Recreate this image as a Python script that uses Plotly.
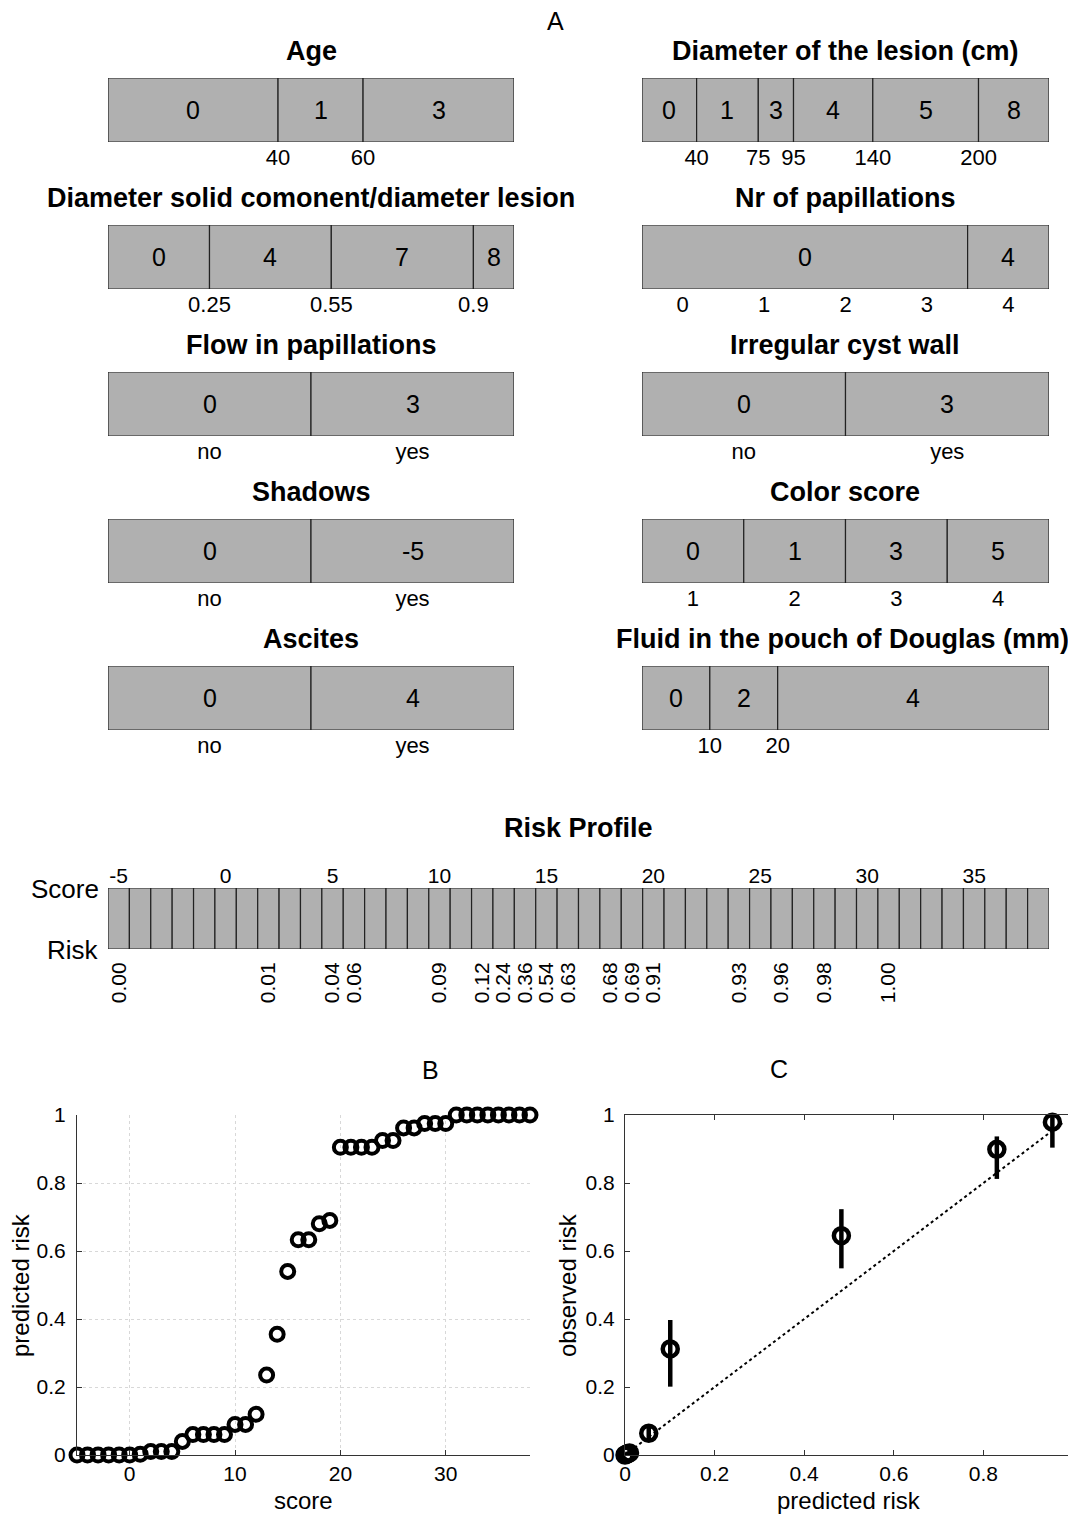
import plotly.graph_objects as go

W, H = 1076, 1516
OFF = 8                      # page body margin of the browser
FW, FH = W - OFF, H - OFF    # figure size
FONT = "Liberation Sans, Arial, sans-serif"
GRAY = "#b0b0b0"

# ---------------- Panel A data ----------------
titles = ["Age", "Diameter of the lesion (cm)",
          "Diameter solid comonent/diameter lesion", "Nr of papillations",
          "Flow in papillations", "Irregular cyst wall",
          "Shadows", "Color score",
          "Ascites", "Fluid in the pouch of Douglas (mm)"]

age_edges = [0, 40, 60, 95.5]
age_points = [0, 1, 3]
age_tickvals = [40, 60]
age_ticktext = ["40", "60"]

lesion_edges = [9, 40, 75, 95, 140, 200, 240]
lesion_points = [0, 1, 3, 4, 5, 8]
lesion_tickvals = [40, 75, 95, 140, 200]
lesion_ticktext = ["40", "75", "95", "140", "200"]

solid_edges = [0, 0.25, 0.55, 0.9, 1.0]
solid_points = [0, 4, 7, 8]
solid_tickvals = [0.25, 0.55, 0.9]
solid_ticktext = ["0.25", "0.55", "0.9"]

pap_edges = [-0.5, 3.5, 4.5]
pap_points = [0, 4]
pap_tickvals = [0, 1, 2, 3, 4]
pap_ticktext = ["0", "1", "2", "3", "4"]

flow_edges = [-0.5, 0.5, 1.5]
flow_points = [0, 3]
cyst_edges = [-0.5, 0.5, 1.5]
cyst_points = [0, 3]
shadow_edges = [-0.5, 0.5, 1.5]
shadow_points = [0, -5]
ascites_edges = [-0.5, 0.5, 1.5]
ascites_points = [0, 4]
yesno_tickvals = [0, 1]
yesno_ticktext = ["no", "yes"]

color_edges = [0.5, 1.5, 2.5, 3.5, 4.5]
color_points = [0, 1, 3, 5]
color_tickvals = [1, 2, 3, 4]
color_ticktext = ["1", "2", "3", "4"]

fluid_edges = [0, 10, 20, 60]
fluid_points = [0, 2, 4]
fluid_tickvals = [10, 20]
fluid_ticktext = ["10", "20"]

# ---------------- Risk profile data ----------------
profile_scores = list(range(-5, 39))
profile_top_ticks = [-5, 0, 5, 10, 15, 20, 25, 30, 35]
risk_label_scores = [-5, 2, 5, 6, 10, 12, 13, 14, 15, 16, 18, 19, 20, 24, 26, 28, 31]
risk_label_text = ["0.00", "0.01", "0.04", "0.06", "0.09", "0.12", "0.24", "0.36",
                   "0.54", "0.63", "0.68", "0.69", "0.91", "0.93", "0.96", "0.98", "1.00"]

# ---------------- Panel B data ----------------
b_score = list(range(-5, 39))
b_risk = [0.0, 0.0, 0.0, 0.0, 0.0, 0.0, 0.002, 0.01, 0.01, 0.01,
          0.04, 0.06, 0.06, 0.06, 0.06, 0.09, 0.09, 0.12, 0.235, 0.355,
          0.54, 0.633, 0.633, 0.68, 0.69, 0.905, 0.905, 0.905, 0.905, 0.925,
          0.925, 0.962, 0.962, 0.975, 0.975, 0.975, 1.0, 1.0, 1.0, 1.0,
          1.0, 1.0, 1.0, 1.0]

# ---------------- Panel C data ----------------
c_pred = [0.0, 0.003, 0.006, 0.01, 0.053, 0.101, 0.483, 0.830, 0.954]
c_obs = [0.0, 0.002, 0.004, 0.006, 0.064, 0.312, 0.645, 0.899, 0.979]
c_low = [0.0, 0.0, 0.0, 0.0, 0.045, 0.201, 0.549, 0.812, 0.904]
c_high = [0.004, 0.008, 0.01, 0.014, 0.084, 0.397, 0.723, 0.937, 1.0]
diag_x = [0, 0.98]
diag_y = [0, 0.98]

# ---------------- helpers (page pixel -> paper) ----------------
def px(x):
    return (x - OFF) / FW

def py(y):
    return 1 - (y - OFF) / FH

def dx(l, r):
    return [px(l), px(r)]

def dy(t, b):
    return [py(b), py(t)]

def txt(xp, yp, text, size, **kw):
    d = dict(x=px(xp), y=py(yp), xref="paper", yref="paper", text=text,
             showarrow=False, xanchor="center", yanchor="middle",
             font=dict(size=size, family=FONT, color="black"))
    d.update(kw)
    return d

fig = go.Figure()
annotations = []
layout = {}

def axname(n, kind):
    return kind + ("" if n == 1 else str(n))

boxes = [
    (age_edges, age_points, age_tickvals, age_ticktext),
    (lesion_edges, lesion_points, lesion_tickvals, lesion_ticktext),
    (solid_edges, solid_points, solid_tickvals, solid_ticktext),
    (pap_edges, pap_points, pap_tickvals, pap_ticktext),
    (flow_edges, flow_points, yesno_tickvals, yesno_ticktext),
    (cyst_edges, cyst_points, yesno_tickvals, yesno_ticktext),
    (shadow_edges, shadow_points, yesno_tickvals, yesno_ticktext),
    (color_edges, color_points, color_tickvals, color_ticktext),
    (ascites_edges, ascites_points, yesno_tickvals, yesno_ticktext),
    (fluid_edges, fluid_points, fluid_tickvals, fluid_ticktext),
]

col_x = [(108, 514), (642, 1049)]
row_top = [78, 225, 372, 519, 666]
BOX_H = 64

for i, (edges, pts, tv, tt) in enumerate(boxes):
    n = i + 1
    row, col = divmod(i, 2)
    l, r = col_x[col]
    t = row_top[row]
    b = t + BOX_H
    xa, ya = axname(n, "x"), axname(n, "y")
    starts = edges[:-1]
    widths = [edges[k + 1] - edges[k] for k in range(len(pts))]
    fig.add_trace(go.Bar(
        orientation="h", y=[0.5] * len(pts), x=widths, base=starts, width=1,
        marker=dict(color=GRAY, line=dict(color="#222222", width=1.2)),
        xaxis=xa, yaxis=ya, hoverinfo="skip", cliponaxis=False))
    for k, p in enumerate(pts):
        annotations.append(dict(
            x=starts[k] + widths[k] / 2, y=0.5, xref=xa, yref=ya,
            xanchor="center", yanchor="middle",
            text=str(p), showarrow=False,
            font=dict(size=25, family=FONT, color="black")))
    layout[axname(n, "xaxis")] = dict(
        domain=dx(l, r), anchor=ya, range=[edges[0], edges[-1]], automargin=False,
        tickmode="array", tickvals=tv, ticktext=tt, ticks="",
        showgrid=False, zeroline=False, showline=False,
        tickfont=dict(size=22, family=FONT, color="black"))
    layout[axname(n, "yaxis")] = dict(
        domain=dy(t, b), anchor=xa, range=[0, 1], visible=False, automargin=False)
    cx = (l + r) / 2 - (3 if i == 9 else 0)
    annotations.append(txt(cx, t - 27, "<b>" + titles[i] + "</b>", 27))

# ---------------- Risk profile ----------------
fig.add_trace(go.Bar(
    x=profile_scores, y=[1] * len(profile_scores), base=0, width=1,
    marker=dict(color=GRAY, line=dict(color="#222222", width=1.2)),
    xaxis="x11", yaxis="y11", hoverinfo="skip", cliponaxis=False))
# invisible companion trace so the top score axis is drawn
fig.add_trace(go.Scatter(
    x=profile_top_ticks, y=[0.5] * len(profile_top_ticks), mode="markers",
    marker=dict(opacity=0), xaxis="x12", yaxis="y11", hoverinfo="skip"))
layout["xaxis11"] = dict(
    domain=dx(108, 1049), anchor="y11", range=[-5.5, 38.5], automargin=False,
    tickmode="array", tickvals=risk_label_scores, ticktext=risk_label_text,
    tickangle=-90, ticks="outside", ticklen=4, tickcolor="rgba(0,0,0,0)",
    showgrid=False, zeroline=False, showline=False,
    tickfont=dict(size=21, family=FONT, color="black"))
layout["xaxis12"] = dict(
    overlaying="x11", anchor="y11", side="top", range=[-5.5, 38.5], automargin=False,
    tickmode="array", tickvals=profile_top_ticks,
    ticktext=[str(v) for v in profile_top_ticks], ticks="",
    showgrid=False, zeroline=False, showline=False,
    tickfont=dict(size=21, family=FONT, color="black"))
layout["yaxis11"] = dict(domain=dy(888, 949), anchor="x11", range=[0, 1],
                         visible=False, automargin=False)
annotations += [
    txt(578, 828, "<b>Risk Profile</b>", 27),
    txt(101, 889, "Score", 26, xanchor="right"),
    txt(101, 950, "Risk", 26, xanchor="right"),
    txt(555, 21, "A", 25),
    txt(430, 1070, "B", 25),
    txt(779, 1069, "C", 25),
]

# ---------------- Panel B ----------------
fig.add_trace(go.Scatter(
    x=b_score, y=b_risk, mode="markers", xaxis="x13", yaxis="y13",
    marker=dict(symbol="circle-open", size=13, color="black", line=dict(width=4)),
    cliponaxis=False, hoverinfo="skip"))
yt = [0, 0.2, 0.4, 0.6, 0.8, 1]
ytt = ["0", "0.2", "0.4", "0.6", "0.8", "1"]
layout["xaxis13"] = dict(
    domain=dx(77, 530), anchor="y13", range=[-5, 38], automargin=False,
    tickmode="array", tickvals=[0, 10, 20, 30], ticktext=["0", "10", "20", "30"],
    ticks="inside", ticklen=5, tickcolor="#333333",
    showgrid=True, gridcolor="#d8d8d8", gridwidth=1, griddash="dot", zeroline=False,
    showline=True, linecolor="#333333", linewidth=1,
    tickfont=dict(size=21, family=FONT, color="black"))
layout["yaxis13"] = dict(
    domain=dy(1115, 1455), anchor="x13", range=[0, 1], automargin=False,
    tickmode="array", tickvals=yt, ticktext=ytt, ticklabelstandoff=6,
    ticks="inside", ticklen=5, tickcolor="#333333",
    showgrid=True, gridcolor="#d8d8d8", gridwidth=1, griddash="dot", zeroline=False,
    showline=True, linecolor="#333333", linewidth=1,
    tickfont=dict(size=21, family=FONT, color="black"))
annotations += [
    txt(20, 1285, "predicted risk", 24, textangle=-90),
    txt(303, 1500, "score", 24),
]

# ---------------- Panel C ----------------
fig.add_trace(go.Scatter(
    x=diag_x, y=diag_y, mode="lines", xaxis="x14", yaxis="y14",
    line=dict(color="black", width=2, dash="dot"), hoverinfo="skip"))
fig.add_trace(go.Scatter(
    x=c_pred, y=c_obs, mode="markers", xaxis="x14", yaxis="y14",
    error_y=dict(type="data", symmetric=False,
                 array=[h - o for h, o in zip(c_high, c_obs)],
                 arrayminus=[o - lo for o, lo in zip(c_obs, c_low)],
                 thickness=4.5, width=0, color="black"),
    marker=dict(symbol="circle-open", size=15, color="black", line=dict(width=4.5)),
    cliponaxis=False, hoverinfo="skip"))
layout["xaxis14"] = dict(
    domain=dx(625, 1073), anchor="y14", range=[0, 1], automargin=False,
    tickmode="array", tickvals=yt, ticktext=ytt,
    ticks="inside", ticklen=5, tickcolor="#333333",
    showgrid=False, zeroline=False, mirror="ticks",
    showline=True, linecolor="#333333", linewidth=1,
    tickfont=dict(size=21, family=FONT, color="black"))
layout["yaxis14"] = dict(
    domain=dy(1115, 1455), anchor="x14", range=[0, 1], automargin=False,
    tickmode="array", tickvals=yt, ticktext=ytt, ticklabelstandoff=5,
    ticks="inside", ticklen=5, tickcolor="#333333",
    showgrid=False, zeroline=False, mirror="ticks",
    showline=True, linecolor="#333333", linewidth=1,
    tickfont=dict(size=21, family=FONT, color="black"))
annotations += [
    txt(567, 1285, "observed risk", 24, textangle=-90),
    txt(849, 1500, "predicted risk", 24),
]

fig.update_layout(
    width=FW, height=FH, margin=dict(l=0, r=0, t=0, b=0, autoexpand=False),
    paper_bgcolor="white", plot_bgcolor="white", showlegend=False,
    barmode="overlay", annotations=annotations,
    font=dict(family=FONT, color="black"), **layout)

fig.write_html("out.html")
